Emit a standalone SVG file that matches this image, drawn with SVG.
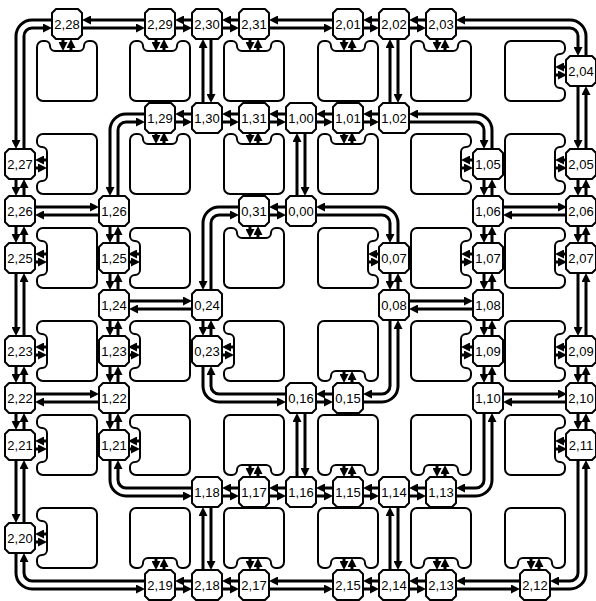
<svg xmlns="http://www.w3.org/2000/svg" width="596" height="601" viewBox="0 0 596 601">
<style>
.tile{fill:#fff;stroke:#000;stroke-width:2;stroke-linejoin:round}
#connectors path{fill:none;stroke:#000;stroke-width:3;marker-end:url(#ah)}
.node use{fill:#fff;stroke:#000;stroke-width:2;stroke-linejoin:round}
.node text{font-family:"Liberation Sans",Arial,sans-serif;font-size:13px;text-anchor:middle;fill:#000}
</style>
<defs>
<marker id="ah" markerUnits="userSpaceOnUse" markerWidth="9" markerHeight="9" refX="3" refY="4.5" orient="auto"><path d="M0,0L9,4.5L0,9Z" fill="#000"/></marker>
<path id="nd" d="M-11,-15H11L15,-11V11L11,15H-11L-15,11V-11Z"/>
<path id="tl" d="M-30,-24A6,6 0 0 1 -24,-30H-22A5,5 0 0 1 -17,-25A5,5 0 0 0 -12,-20H12A5,5 0 0 0 17,-25A5,5 0 0 1 22,-30H24A6,6 0 0 1 30,-24V24A6,6 0 0 1 24,30H-24A6,6 0 0 1 -30,24Z"/>
</defs>
<rect width="596" height="601" fill="#fff"/>
<g id="tiles">
<use id="t1-1" class="tile" href="#tl" transform="translate(67,71)"/>
<use id="t1-3" class="tile" href="#tl" transform="translate(160,71)"/>
<use id="t1-5" class="tile" href="#tl" transform="translate(254,71)"/>
<use id="t1-7" class="tile" href="#tl" transform="translate(348,71)"/>
<use id="t1-9" class="tile" href="#tl" transform="translate(441,71)"/>
<use id="t1-11" class="tile" href="#tl" transform="translate(535,71) rotate(90)"/>
<use id="t3-1" class="tile" href="#tl" transform="translate(67,164) rotate(-90)"/>
<use id="t3-3" class="tile" href="#tl" transform="translate(160,164)"/>
<use id="t3-5" class="tile" href="#tl" transform="translate(254,164)"/>
<use id="t3-7" class="tile" href="#tl" transform="translate(348,164)"/>
<use id="t3-9" class="tile" href="#tl" transform="translate(441,164) rotate(90)"/>
<use id="t3-11" class="tile" href="#tl" transform="translate(535,164) rotate(90)"/>
<use id="t5-1" class="tile" href="#tl" transform="translate(67,258) rotate(-90)"/>
<use id="t5-3" class="tile" href="#tl" transform="translate(160,258) rotate(-90)"/>
<use id="t5-5" class="tile" href="#tl" transform="translate(254,258)"/>
<use id="t5-7" class="tile" href="#tl" transform="translate(348,258) rotate(90)"/>
<use id="t5-9" class="tile" href="#tl" transform="translate(441,258) rotate(90)"/>
<use id="t5-11" class="tile" href="#tl" transform="translate(535,258) rotate(90)"/>
<use id="t7-1" class="tile" href="#tl" transform="translate(67,351) rotate(-90)"/>
<use id="t7-3" class="tile" href="#tl" transform="translate(160,351) rotate(-90)"/>
<use id="t7-5" class="tile" href="#tl" transform="translate(254,351) rotate(-90)"/>
<use id="t7-7" class="tile" href="#tl" transform="translate(348,351) rotate(180)"/>
<use id="t7-9" class="tile" href="#tl" transform="translate(441,351) rotate(90)"/>
<use id="t7-11" class="tile" href="#tl" transform="translate(535,351) rotate(90)"/>
<use id="t9-1" class="tile" href="#tl" transform="translate(67,445) rotate(-90)"/>
<use id="t9-3" class="tile" href="#tl" transform="translate(160,445) rotate(-90)"/>
<use id="t9-5" class="tile" href="#tl" transform="translate(254,445) rotate(180)"/>
<use id="t9-7" class="tile" href="#tl" transform="translate(348,445) rotate(180)"/>
<use id="t9-9" class="tile" href="#tl" transform="translate(441,445) rotate(180)"/>
<use id="t9-11" class="tile" href="#tl" transform="translate(535,445) rotate(90)"/>
<use id="t11-1" class="tile" href="#tl" transform="translate(67,538) rotate(-90)"/>
<use id="t11-3" class="tile" href="#tl" transform="translate(160,538) rotate(180)"/>
<use id="t11-5" class="tile" href="#tl" transform="translate(254,538) rotate(180)"/>
<use id="t11-7" class="tile" href="#tl" transform="translate(348,538) rotate(180)"/>
<use id="t11-9" class="tile" href="#tl" transform="translate(441,538) rotate(180)"/>
<use id="t11-11" class="tile" href="#tl" transform="translate(535,538) rotate(180)"/>
</g>
<g id="connectors">
<path d="M82,28H139"/><path d="M145,20H88"/>
<path d="M175,28H186"/><path d="M192,20H181"/>
<path d="M222,28H233"/><path d="M239,20H228"/>
<path d="M269,28H327"/><path d="M333,20H275"/>
<path d="M363,28H373"/><path d="M379,20H369"/>
<path d="M409,28H420"/><path d="M426,20H415"/>
<path d="M456,28H570A8,8 0 0 1 578,36V50"/><path d="M586,56V36A16,16 0 0 0 570,20H462"/>
<path d="M578,86V143"/><path d="M586,149V92"/>
<path d="M578,179V190"/><path d="M586,196V185"/>
<path d="M578,226V237"/><path d="M586,243V232"/>
<path d="M578,273V330"/><path d="M586,336V279"/>
<path d="M578,366V377"/><path d="M586,383V372"/>
<path d="M578,413V424"/><path d="M586,430V419"/>
<path d="M578,460V573A8,8 0 0 1 570,581H556"/><path d="M550,589H570A16,16 0 0 0 586,573V466"/>
<path d="M456,589H514"/><path d="M520,581H462"/>
<path d="M409,589H420"/><path d="M426,581H415"/>
<path d="M363,589H373"/><path d="M379,581H369"/>
<path d="M269,589H327"/><path d="M333,581H275"/>
<path d="M222,589H233"/><path d="M239,581H228"/>
<path d="M175,589H186"/><path d="M192,581H181"/>
<path d="M145,581H32A8,8 0 0 1 24,573V559"/><path d="M16,553V573A16,16 0 0 0 32,589H139"/>
<path d="M16,460V517"/><path d="M24,523V466"/>
<path d="M16,413V424"/><path d="M24,430V419"/>
<path d="M16,366V377"/><path d="M24,383V372"/>
<path d="M16,273V330"/><path d="M24,336V279"/>
<path d="M16,226V237"/><path d="M24,243V232"/>
<path d="M16,179V190"/><path d="M24,196V185"/>
<path d="M52,20H32A16,16 0 0 0 16,36V143"/><path d="M24,149V36A8,8 0 0 1 32,28H46"/>
<path d="M175,122H186"/><path d="M192,114H181"/>
<path d="M222,122H233"/><path d="M239,114H228"/>
<path d="M269,122H280"/><path d="M286,114H275"/>
<path d="M316,122H327"/><path d="M333,114H322"/>
<path d="M363,122H373"/><path d="M379,114H369"/>
<path d="M409,122H476A8,8 0 0 1 484,130V143"/><path d="M492,149V130A16,16 0 0 0 476,114H415"/>
<path d="M484,179V190"/><path d="M492,196V185"/>
<path d="M484,226V237"/><path d="M492,243V232"/>
<path d="M484,273V284"/><path d="M492,290V279"/>
<path d="M484,320V330"/><path d="M492,336V326"/>
<path d="M484,366V377"/><path d="M492,383V372"/>
<path d="M484,413V480A8,8 0 0 1 476,488H462"/><path d="M456,496H476A16,16 0 0 0 492,480V419"/>
<path d="M409,496H420"/><path d="M426,488H415"/>
<path d="M363,496H373"/><path d="M379,488H369"/>
<path d="M316,496H327"/><path d="M333,488H322"/>
<path d="M269,496H280"/><path d="M286,488H275"/>
<path d="M222,496H233"/><path d="M239,488H228"/>
<path d="M192,488H126A8,8 0 0 1 118,480V466"/><path d="M110,460V480A16,16 0 0 0 126,496H186"/>
<path d="M110,413V424"/><path d="M118,430V419"/>
<path d="M110,366V377"/><path d="M118,383V372"/>
<path d="M110,320V330"/><path d="M118,336V326"/>
<path d="M110,273V284"/><path d="M118,290V279"/>
<path d="M110,226V237"/><path d="M118,243V232"/>
<path d="M145,114H126A16,16 0 0 0 110,130V190"/><path d="M118,196V130A8,8 0 0 1 126,122H139"/>
<path d="M269,215H280"/><path d="M286,207H275"/>
<path d="M316,215H382A8,8 0 0 1 390,223V237"/><path d="M398,243V223A16,16 0 0 0 382,207H322"/>
<path d="M390,273V284"/><path d="M398,290V279"/>
<path d="M390,320V386A8,8 0 0 1 382,394H369"/><path d="M363,402H382A16,16 0 0 0 398,386V326"/>
<path d="M316,402H327"/><path d="M333,394H322"/>
<path d="M286,394H219A8,8 0 0 1 211,386V372"/><path d="M203,366V386A16,16 0 0 0 219,402H280"/>
<path d="M203,320V330"/><path d="M211,336V326"/>
<path d="M211,290V223A8,8 0 0 1 219,215H233"/><path d="M239,207H219A16,16 0 0 0 203,223V284"/>
<path d="M211,39V97"/><path d="M203,103V45"/>
<path d="M398,39V97"/><path d="M390,103V45"/>
<path d="M305,133V190"/><path d="M297,196V139"/>
<path d="M35,207H93"/><path d="M99,215H41"/>
<path d="M129,301H186"/><path d="M192,309H135"/>
<path d="M35,394H93"/><path d="M99,402H41"/>
<path d="M503,207H561"/><path d="M567,215H509"/>
<path d="M409,301H467"/><path d="M473,309H415"/>
<path d="M503,394H561"/><path d="M567,402H509"/>
<path d="M305,413V471"/><path d="M297,477V419"/>
<path d="M211,507V564"/><path d="M203,570V513"/>
<path d="M398,507V564"/><path d="M390,570V513"/>
<g transform="translate(67,71)"><path d="M-4,-32V-26"/><path d="M4,-20V-26"/></g>
<g transform="translate(160,71)"><path d="M-4,-32V-26"/><path d="M4,-20V-26"/></g>
<g transform="translate(254,71)"><path d="M-4,-32V-26"/><path d="M4,-20V-26"/></g>
<g transform="translate(348,71)"><path d="M-4,-32V-26"/><path d="M4,-20V-26"/></g>
<g transform="translate(441,71)"><path d="M-4,-32V-26"/><path d="M4,-20V-26"/></g>
<g transform="translate(535,71) rotate(90)"><path d="M-4,-32V-26"/><path d="M4,-20V-26"/></g>
<g transform="translate(67,164) rotate(-90)"><path d="M-4,-32V-26"/><path d="M4,-20V-26"/></g>
<g transform="translate(160,164)"><path d="M-4,-32V-26"/><path d="M4,-20V-26"/></g>
<g transform="translate(254,164)"><path d="M-4,-32V-26"/><path d="M4,-20V-26"/></g>
<g transform="translate(348,164)"><path d="M-4,-32V-26"/><path d="M4,-20V-26"/></g>
<g transform="translate(441,164) rotate(90)"><path d="M-4,-32V-26"/><path d="M4,-20V-26"/></g>
<g transform="translate(535,164) rotate(90)"><path d="M-4,-32V-26"/><path d="M4,-20V-26"/></g>
<g transform="translate(67,258) rotate(-90)"><path d="M-4,-32V-26"/><path d="M4,-20V-26"/></g>
<g transform="translate(160,258) rotate(-90)"><path d="M-4,-32V-26"/><path d="M4,-20V-26"/></g>
<g transform="translate(254,258)"><path d="M-4,-32V-26"/><path d="M4,-20V-26"/></g>
<g transform="translate(348,258) rotate(90)"><path d="M-4,-32V-26"/><path d="M4,-20V-26"/></g>
<g transform="translate(441,258) rotate(90)"><path d="M-4,-32V-26"/><path d="M4,-20V-26"/></g>
<g transform="translate(535,258) rotate(90)"><path d="M-4,-32V-26"/><path d="M4,-20V-26"/></g>
<g transform="translate(67,351) rotate(-90)"><path d="M-4,-32V-26"/><path d="M4,-20V-26"/></g>
<g transform="translate(160,351) rotate(-90)"><path d="M-4,-32V-26"/><path d="M4,-20V-26"/></g>
<g transform="translate(254,351) rotate(-90)"><path d="M-4,-32V-26"/><path d="M4,-20V-26"/></g>
<g transform="translate(348,351) rotate(180)"><path d="M-4,-32V-26"/><path d="M4,-20V-26"/></g>
<g transform="translate(441,351) rotate(90)"><path d="M-4,-32V-26"/><path d="M4,-20V-26"/></g>
<g transform="translate(535,351) rotate(90)"><path d="M-4,-32V-26"/><path d="M4,-20V-26"/></g>
<g transform="translate(67,445) rotate(-90)"><path d="M-4,-32V-26"/><path d="M4,-20V-26"/></g>
<g transform="translate(160,445) rotate(-90)"><path d="M-4,-32V-26"/><path d="M4,-20V-26"/></g>
<g transform="translate(254,445) rotate(180)"><path d="M-4,-32V-26"/><path d="M4,-20V-26"/></g>
<g transform="translate(348,445) rotate(180)"><path d="M-4,-32V-26"/><path d="M4,-20V-26"/></g>
<g transform="translate(441,445) rotate(180)"><path d="M-4,-32V-26"/><path d="M4,-20V-26"/></g>
<g transform="translate(535,445) rotate(90)"><path d="M-4,-32V-26"/><path d="M4,-20V-26"/></g>
<g transform="translate(67,538) rotate(-90)"><path d="M-4,-32V-26"/><path d="M4,-20V-26"/></g>
<g transform="translate(160,538) rotate(180)"><path d="M-4,-32V-26"/><path d="M4,-20V-26"/></g>
<g transform="translate(254,538) rotate(180)"><path d="M-4,-32V-26"/><path d="M4,-20V-26"/></g>
<g transform="translate(348,538) rotate(180)"><path d="M-4,-32V-26"/><path d="M4,-20V-26"/></g>
<g transform="translate(441,538) rotate(180)"><path d="M-4,-32V-26"/><path d="M4,-20V-26"/></g>
<g transform="translate(535,538) rotate(180)"><path d="M-4,-32V-26"/><path d="M4,-20V-26"/></g>
</g>
<g id="nodes">
<g id="n2-28" class="node" transform="translate(67,24)"><use href="#nd"/><text y="4.5">2,28</text></g>
<g id="n2-29" class="node" transform="translate(160,24)"><use href="#nd"/><text y="4.5">2,29</text></g>
<g id="n2-30" class="node" transform="translate(207,24)"><use href="#nd"/><text y="4.5">2,30</text></g>
<g id="n2-31" class="node" transform="translate(254,24)"><use href="#nd"/><text y="4.5">2,31</text></g>
<g id="n2-01" class="node" transform="translate(348,24)"><use href="#nd"/><text y="4.5">2,01</text></g>
<g id="n2-02" class="node" transform="translate(394,24)"><use href="#nd"/><text y="4.5">2,02</text></g>
<g id="n2-03" class="node" transform="translate(441,24)"><use href="#nd"/><text y="4.5">2,03</text></g>
<g id="n2-04" class="node" transform="translate(581,71)"><use href="#nd"/><text y="4.5">2,04</text></g>
<g id="n1-29" class="node" transform="translate(160,118)"><use href="#nd"/><text y="4.5">1,29</text></g>
<g id="n1-30" class="node" transform="translate(207,118)"><use href="#nd"/><text y="4.5">1,30</text></g>
<g id="n1-31" class="node" transform="translate(254,118)"><use href="#nd"/><text y="4.5">1,31</text></g>
<g id="n1-00" class="node" transform="translate(301,118)"><use href="#nd"/><text y="4.5">1,00</text></g>
<g id="n1-01" class="node" transform="translate(348,118)"><use href="#nd"/><text y="4.5">1,01</text></g>
<g id="n1-02" class="node" transform="translate(394,118)"><use href="#nd"/><text y="4.5">1,02</text></g>
<g id="n2-27" class="node" transform="translate(20,164)"><use href="#nd"/><text y="4.5">2,27</text></g>
<g id="n1-05" class="node" transform="translate(488,164)"><use href="#nd"/><text y="4.5">1,05</text></g>
<g id="n2-05" class="node" transform="translate(581,164)"><use href="#nd"/><text y="4.5">2,05</text></g>
<g id="n2-26" class="node" transform="translate(20,211)"><use href="#nd"/><text y="4.5">2,26</text></g>
<g id="n1-26" class="node" transform="translate(114,211)"><use href="#nd"/><text y="4.5">1,26</text></g>
<g id="n0-31" class="node" transform="translate(254,211)"><use href="#nd"/><text y="4.5">0,31</text></g>
<g id="n0-00" class="node" transform="translate(301,211)"><use href="#nd"/><text y="4.5">0,00</text></g>
<g id="n1-06" class="node" transform="translate(488,211)"><use href="#nd"/><text y="4.5">1,06</text></g>
<g id="n2-06" class="node" transform="translate(581,211)"><use href="#nd"/><text y="4.5">2,06</text></g>
<g id="n2-25" class="node" transform="translate(20,258)"><use href="#nd"/><text y="4.5">2,25</text></g>
<g id="n1-25" class="node" transform="translate(114,258)"><use href="#nd"/><text y="4.5">1,25</text></g>
<g id="n0-07" class="node" transform="translate(394,258)"><use href="#nd"/><text y="4.5">0,07</text></g>
<g id="n1-07" class="node" transform="translate(488,258)"><use href="#nd"/><text y="4.5">1,07</text></g>
<g id="n2-07" class="node" transform="translate(581,258)"><use href="#nd"/><text y="4.5">2,07</text></g>
<g id="n1-24" class="node" transform="translate(114,305)"><use href="#nd"/><text y="4.5">1,24</text></g>
<g id="n0-24" class="node" transform="translate(207,305)"><use href="#nd"/><text y="4.5">0,24</text></g>
<g id="n0-08" class="node" transform="translate(394,305)"><use href="#nd"/><text y="4.5">0,08</text></g>
<g id="n1-08" class="node" transform="translate(488,305)"><use href="#nd"/><text y="4.5">1,08</text></g>
<g id="n2-23" class="node" transform="translate(20,351)"><use href="#nd"/><text y="4.5">2,23</text></g>
<g id="n1-23" class="node" transform="translate(114,351)"><use href="#nd"/><text y="4.5">1,23</text></g>
<g id="n0-23" class="node" transform="translate(207,351)"><use href="#nd"/><text y="4.5">0,23</text></g>
<g id="n1-09" class="node" transform="translate(488,351)"><use href="#nd"/><text y="4.5">1,09</text></g>
<g id="n2-09" class="node" transform="translate(581,351)"><use href="#nd"/><text y="4.5">2,09</text></g>
<g id="n2-22" class="node" transform="translate(20,398)"><use href="#nd"/><text y="4.5">2,22</text></g>
<g id="n1-22" class="node" transform="translate(114,398)"><use href="#nd"/><text y="4.5">1,22</text></g>
<g id="n0-16" class="node" transform="translate(301,398)"><use href="#nd"/><text y="4.5">0,16</text></g>
<g id="n0-15" class="node" transform="translate(348,398)"><use href="#nd"/><text y="4.5">0,15</text></g>
<g id="n1-10" class="node" transform="translate(488,398)"><use href="#nd"/><text y="4.5">1,10</text></g>
<g id="n2-10" class="node" transform="translate(581,398)"><use href="#nd"/><text y="4.5">2,10</text></g>
<g id="n2-21" class="node" transform="translate(20,445)"><use href="#nd"/><text y="4.5">2,21</text></g>
<g id="n1-21" class="node" transform="translate(114,445)"><use href="#nd"/><text y="4.5">1,21</text></g>
<g id="n2-11" class="node" transform="translate(581,445)"><use href="#nd"/><text y="4.5">2,11</text></g>
<g id="n1-18" class="node" transform="translate(207,492)"><use href="#nd"/><text y="4.5">1,18</text></g>
<g id="n1-17" class="node" transform="translate(254,492)"><use href="#nd"/><text y="4.5">1,17</text></g>
<g id="n1-16" class="node" transform="translate(301,492)"><use href="#nd"/><text y="4.5">1,16</text></g>
<g id="n1-15" class="node" transform="translate(348,492)"><use href="#nd"/><text y="4.5">1,15</text></g>
<g id="n1-14" class="node" transform="translate(394,492)"><use href="#nd"/><text y="4.5">1,14</text></g>
<g id="n1-13" class="node" transform="translate(441,492)"><use href="#nd"/><text y="4.5">1,13</text></g>
<g id="n2-20" class="node" transform="translate(20,538)"><use href="#nd"/><text y="4.5">2,20</text></g>
<g id="n2-19" class="node" transform="translate(160,585)"><use href="#nd"/><text y="4.5">2,19</text></g>
<g id="n2-18" class="node" transform="translate(207,585)"><use href="#nd"/><text y="4.5">2,18</text></g>
<g id="n2-17" class="node" transform="translate(254,585)"><use href="#nd"/><text y="4.5">2,17</text></g>
<g id="n2-15" class="node" transform="translate(348,585)"><use href="#nd"/><text y="4.5">2,15</text></g>
<g id="n2-14" class="node" transform="translate(394,585)"><use href="#nd"/><text y="4.5">2,14</text></g>
<g id="n2-13" class="node" transform="translate(441,585)"><use href="#nd"/><text y="4.5">2,13</text></g>
<g id="n2-12" class="node" transform="translate(535,585)"><use href="#nd"/><text y="4.5">2,12</text></g>
</g>
</svg>
